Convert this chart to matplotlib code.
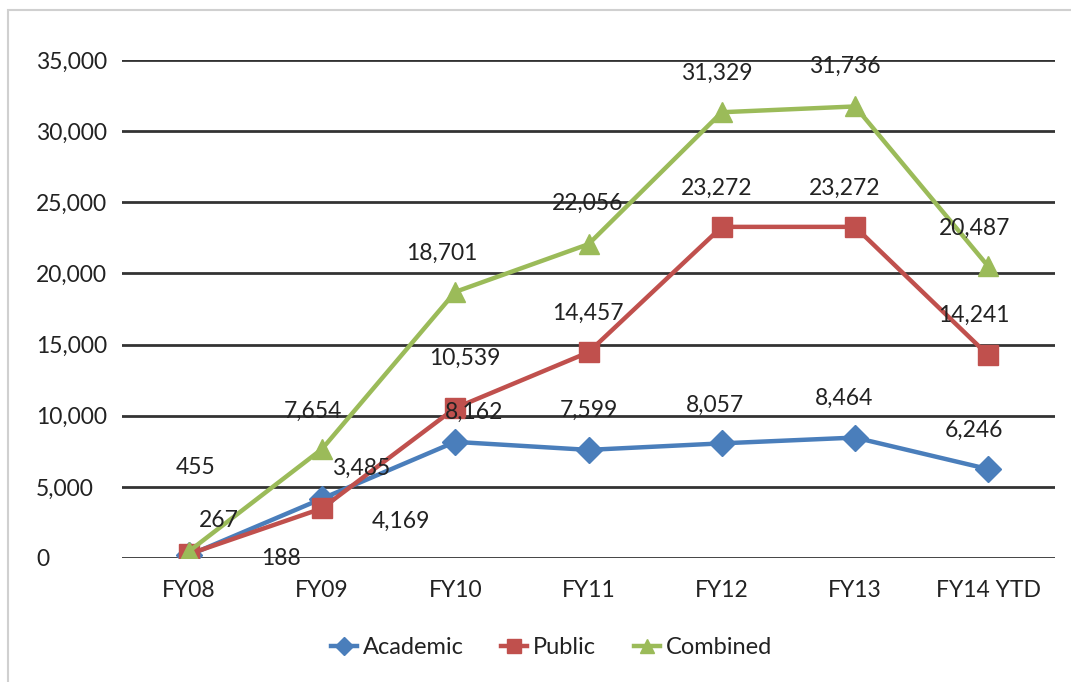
import matplotlib.pyplot as plt
import matplotlib.patches as patches
import numpy as np

plt.rcParams['font.family'] = ['Lato', 'DejaVu Sans']

years = ['FY08', 'FY09', 'FY10', 'FY11', 'FY12', 'FY13', 'FY14 YTD']
academic = [188, 4169, 8162, 7599, 8057, 8464, 6246]
public = [267, 3485, 10539, 14457, 23272, 23272, 14241]
combined = [455, 7654, 18701, 22056, 31329, 31736, 20487]

# label offsets in pixels (dx, dy) - excel put some of them in odd places
off_academic = [(92, -3), (79, -23), (19, 30), (0, 40), (-7, 38), (-11, 39), (-14, 39)]
off_public = [(30, 34), (39, 40), (10, 50), (-1, 39), (-5, 39), (-10, 39), (-14, 40)]
off_combined = [(7, 84), (-9, 38), (-13, 39), (-1, 41), (-5, 39), (-10, 40), (-14, 38)]

fs = 16.5

fig = plt.figure(figsize=(10.71, 6.82), dpi=100)
fig.patches.append(patches.Rectangle((8/1071, -0.05), 1.1, 1 - 10/682 + 0.05,
                                     transform=fig.transFigure, fill=False,
                                     edgecolor='#d0d0d0', lw=1.5))
ax = fig.add_axes([122/1071, 1 - 558/682, (1055-122)/1071, (558-60)/682])

x = np.arange(len(years))
series = [
    ('Academic', academic, '#4a7ebb', 'D', 13, off_academic),
    ('Public', public, '#c0504d', 's', 15, off_public),
    ('Combined', combined, '#9bbb59', '^', 15, off_combined),
]
for name, vals, col, mk, ms, offs in series:
    ax.plot(x, vals, color=col, lw=3.2, marker=mk, markersize=ms, label=name, zorder=3)
    for xi, v, (dx, dy) in zip(x, vals, offs):
        ax.annotate(f'{v:,}', (xi, v), xytext=(dx, dy), textcoords='offset pixels',
                    ha='center', va='center', fontsize=fs, color='#222222', zorder=4)

ax.set_xlim(-0.5, 6.5)
ax.set_ylim(0, 35000)
ax.set_yticks(np.arange(0, 35001, 5000))
ax.set_yticklabels([f'{t:,}' for t in range(0, 35001, 5000)], ha='left')
ax.set_xticks(x)
ax.set_xticklabels(years)
ax.tick_params(axis='y', length=0, pad=62, labelsize=fs, labelcolor='#222222')
ax.tick_params(axis='x', length=0, pad=16, labelsize=fs, labelcolor='#222222')
ax.grid(axis='y', color='#333333', lw=2)
ax.set_axisbelow(True)
for s in ax.spines.values():
    s.set_visible(False)

leg = fig.legend(loc='center', bbox_to_anchor=(0.515, 1 - 648/682), ncol=3, frameon=False,
                 fontsize=fs + 0.5, handlelength=1.1, columnspacing=1.6, handletextpad=0.25,
                 markerscale=0.7)
for t in leg.get_texts():
    t.set_color('#222222')

plt.savefig('out.png', dpi=100)
